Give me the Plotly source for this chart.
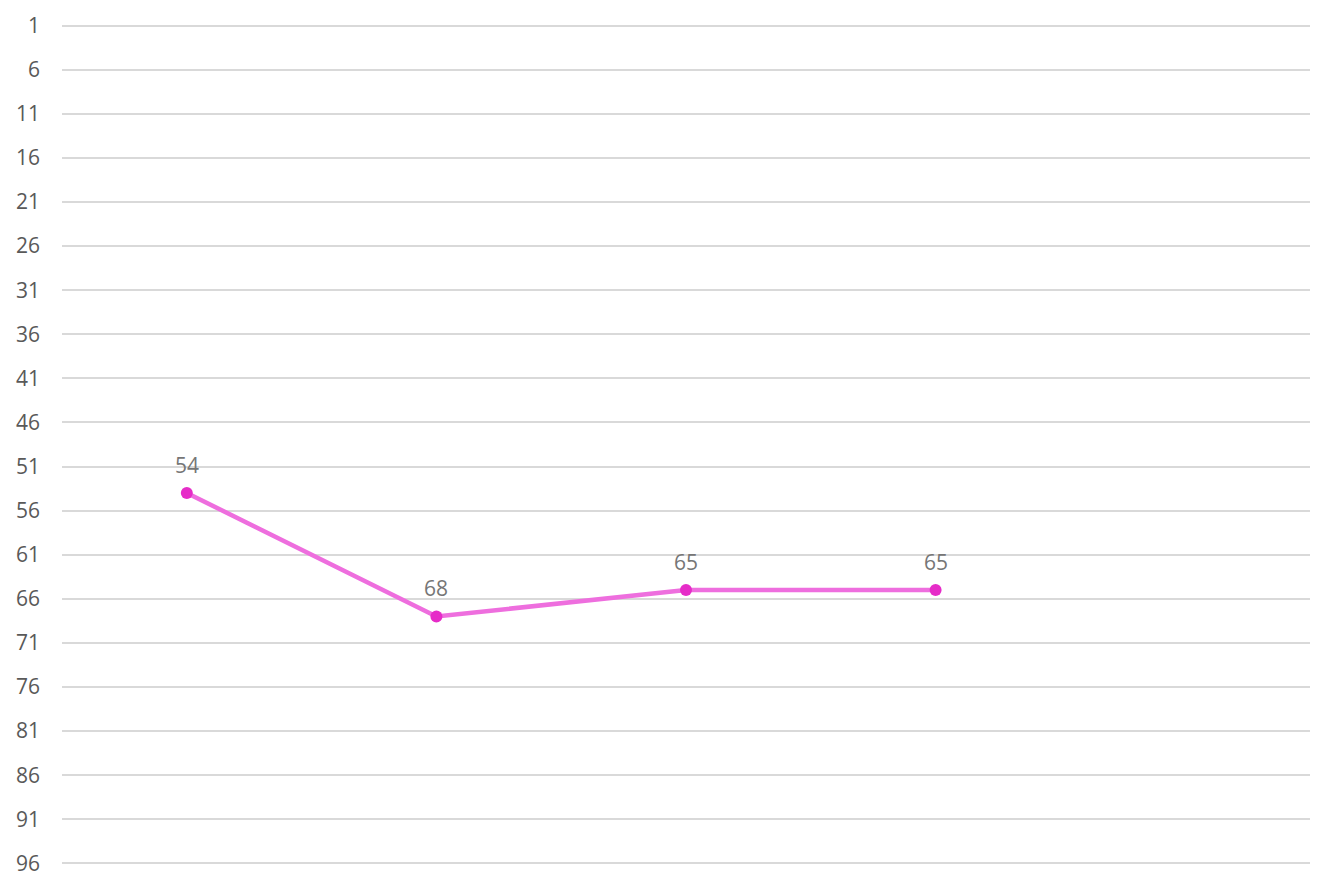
import plotly.graph_objects as go

categories = ["A", "B", "C", "D", "E"]
values = [54, 68, 65, 65, None]
tick_vals = list(range(1, 97, 5))

fig = go.Figure()
fig.add_trace(go.Scatter(
    x=categories, y=values, mode="lines+markers",
    line=dict(color="#EE6EDE", width=4.5),
    marker=dict(color="#E62CC8", size=12),
    connectgaps=False, showlegend=False, hoverinfo="skip",
))
for c, v in zip(categories, values):
    if v is not None:
        fig.add_annotation(x=c, y=v, text=str(v), showarrow=False, yshift=28,
                           font=dict(family="Open Sans", size=21, color="#767676"))

# page body has an 8px default margin; size the figure to fit the window
fig.update_layout(
    width=1318, height=873,
    margin=dict(l=54, r=16, t=15, b=15, autoexpand=False),
    paper_bgcolor="white", plot_bgcolor="white",
    font=dict(family="Open Sans", size=21, color="#595959"),
)
fig.update_xaxes(type="category", categoryarray=categories, range=[-0.5, 4.5],
                 showticklabels=False, showgrid=False, zeroline=False, showline=False,
                 automargin=False)
fig.update_yaxes(range=[96.3, 0.7], tickvals=tick_vals, ticktext=[str(t) for t in tick_vals],
                 showgrid=True, gridcolor="#D9D9D9", gridwidth=1.5, zeroline=False,
                 showline=False, ticks="", ticklabelstandoff=21, automargin=False,
                 tickfont=dict(family="Open Sans", size=21, color="#595959"))
fig.write_html("out.html")
